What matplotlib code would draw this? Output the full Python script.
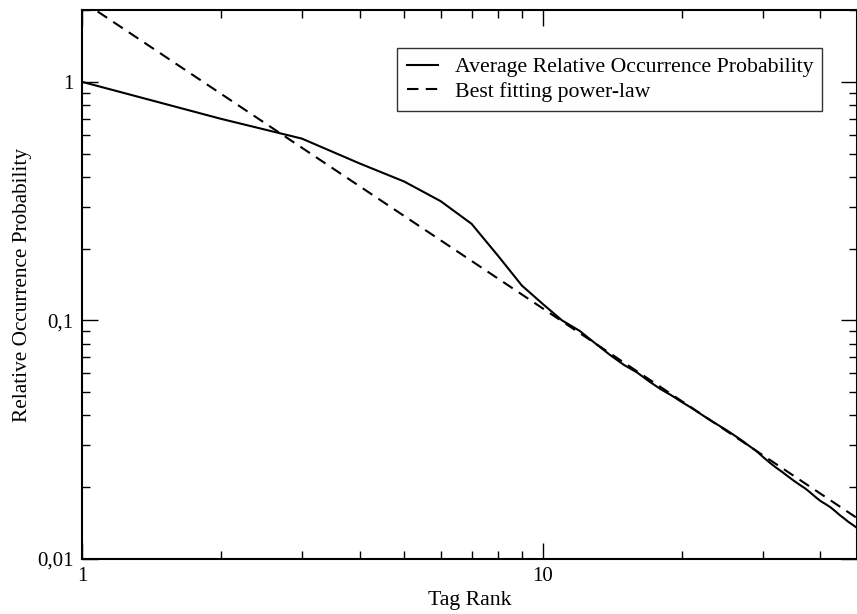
import matplotlib
matplotlib.use("Agg")
import matplotlib.pyplot as plt
from matplotlib.ticker import FuncFormatter, LogLocator

plt.rcParams['font.family'] = ['Liberation Serif', 'DejaVu Serif']

# average relative occurrence probability per tag rank
rank = list(range(1, 49))
avg_prob = [1.0, 0.70, 0.578, 0.455, 0.382, 0.316, 0.254, 0.186, 0.140, 0.117,
            0.100, 0.0905, 0.080, 0.0715, 0.065, 0.0605, 0.0555, 0.0515, 0.0485, 0.0455,
            0.0430, 0.0405, 0.0383, 0.0364, 0.0347, 0.0330, 0.0314, 0.0298, 0.0284, 0.0268,
            0.0254, 0.0242, 0.0232, 0.0222, 0.0213, 0.0205, 0.0198, 0.0190, 0.0182, 0.0175,
            0.0170, 0.0165, 0.0159, 0.0153, 0.0148, 0.0143, 0.0139, 0.0135]

# best fitting power-law (straight line on log-log), end points
fit_rank = [1, 48]
fit_prob = [2.18, 0.01485]

fig = plt.figure(figsize=(8.57, 6.14), dpi=100)
ax = fig.add_axes([82/857, 1 - 559/614, 775/857, 549/614])

ax.plot(rank, avg_prob, color='black', lw=1.5, label='Average Relative Occurrence Probability')
ax.plot(fit_rank, fit_prob, color='black', lw=1.5, dashes=(5.5, 3.5), label='Best fitting power-law')

ax.set_xscale('log')
ax.set_yscale('log')
ax.set_xlim(1, 48)
ax.set_ylim(0.01, 2.0)

def fmt(v, pos):
    if v >= 1:
        return '%d' % round(v)
    s = ('%.2f' % v).rstrip('0')
    return s.replace('.', ',')

ax.xaxis.set_major_locator(LogLocator(base=10))
ax.yaxis.set_major_locator(LogLocator(base=10))
ax.xaxis.set_minor_locator(LogLocator(base=10, subs=range(2, 10)))
ax.yaxis.set_minor_locator(LogLocator(base=10, subs=range(2, 10)))
ax.xaxis.set_major_formatter(FuncFormatter(fmt))
ax.yaxis.set_major_formatter(FuncFormatter(fmt))
ax.xaxis.set_minor_formatter(FuncFormatter(lambda v, p: ''))
ax.yaxis.set_minor_formatter(FuncFormatter(lambda v, p: ''))

ax.tick_params(which='both', direction='in', top=True, right=True, width=1.0, labelsize=15)
ax.tick_params(which='major', length=11.5)
ax.tick_params(which='minor', length=5.5)
ax.tick_params(axis='x', pad=6)
ax.tick_params(axis='y', pad=6)
for s in ax.spines.values():
    s.set_linewidth(1.5)

ax.set_xlabel('Tag Rank', fontsize=15.7, labelpad=3)
ax.set_ylabel('Relative Occurrence Probability', fontsize=15.3, labelpad=4)

leg = ax.legend(loc='upper left', bbox_to_anchor=(0.407, 0.931), borderaxespad=0,
                fontsize=15.7, frameon=True, fancybox=False, handlelength=1.45,
                handletextpad=0.75, borderpad=0.42, labelspacing=0.2)
leg.get_frame().set_edgecolor('black')
leg.get_frame().set_linewidth(1.0)

fig.savefig('out.png', dpi=100)
